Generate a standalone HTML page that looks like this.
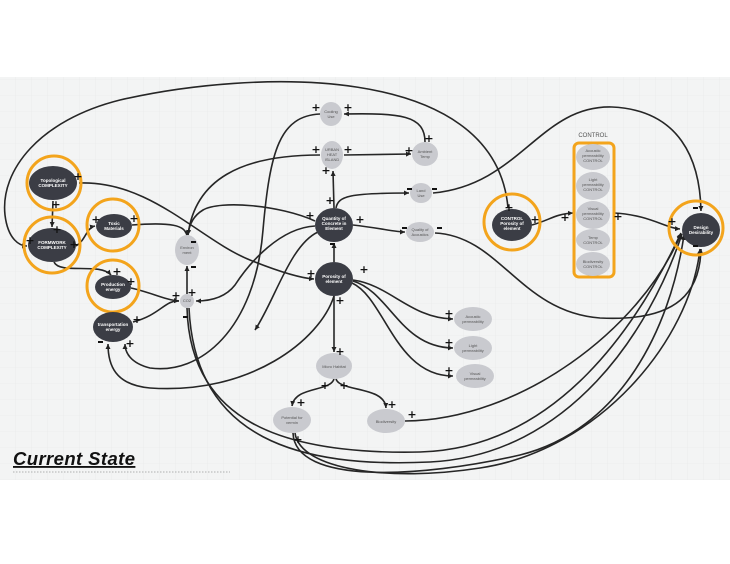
<!DOCTYPE html>
<html><head><meta charset="utf-8"><style>
html,body{margin:0;padding:0;background:#fff;width:730px;height:564px;overflow:hidden}
svg{display:block;font-family:"Liberation Sans",sans-serif}
</style></head><body>
<svg width="730" height="564" viewBox="0 0 730 564" xmlns="http://www.w3.org/2000/svg">
<defs>
<pattern id="g" width="16" height="16" patternUnits="userSpaceOnUse"><path d="M16 0V16H0" fill="none" stroke="#e6e8e8" stroke-width="0.6"/></pattern>
<marker id="a" markerWidth="6" markerHeight="6" refX="5" refY="3" orient="auto" markerUnits="userSpaceOnUse"><path d="M0,0.5 L5,3 L0,5.5z" fill="#222"/></marker>
</defs>
<rect x="0" y="77" width="730" height="403" fill="#f3f4f4"/>
<rect x="0" y="77" width="730" height="403" fill="url(#g)"/>
<g fill="none" stroke="#262626" stroke-width="1.6" marker-end="url(#a)">
<path d="M508,208 C495,60 250,70 120,100 C40,120 0,170 5,215 C8,240 20,246 27,246"/>
<path d="M433,193 C520,185 540,105 612,107 C680,110 700,160 701,211"/>
<path d="M79,183 C150,180 200,240 250,260 C280,272 300,278 314,279"/>
<path d="M53,201 L52,227"/>
<path d="M76,246 C86,240 86,228 95,226"/>
<path d="M54,262 C60,275 100,262 111,275"/>
<path d="M132,225 C170,222 186,225 187,236"/>
<path d="M131,288 C150,292 165,300 179,301"/>
<path d="M133,322 C160,315 165,300 179,301"/>
<path d="M187,294 L187,266"/>
<path d="M320,114 C280,116 270,150 263,230 C255,330 200,375 150,368 C130,363 125,352 125,344"/>
<path d="M334,296 C320,340 250,395 150,388 C115,385 108,365 108,344"/>
<path d="M320,155 C240,155 195,180 188,235"/>
<path d="M315,221 C280,205 220,200 203,210 C193,216 189,225 188,235"/>
<path d="M315,226 C280,228 250,262 235,285 C225,298 210,301 196,301"/>
<path d="M318,232 C290,245 275,300 255,330"/>
<path d="M334,208 L333,171"/>
<path d="M425,142 C425,115 400,113 344,114"/>
<path d="M344,155 L411,154"/>
<path d="M336,208 C338,196 350,193 409,193"/>
<path d="M353,225 C380,228 395,232 405,232"/>
<path d="M435,233 C500,236 520,312 600,318 C680,322 700,290 701,249"/>
<path d="M334,262 L334,243"/>
<path d="M353,280 C390,285 410,318 453,319"/>
<path d="M353,281 C390,292 400,347 453,348"/>
<path d="M352,283 C385,298 395,376 453,376"/>
<path d="M334,296 L334,352"/>
<path d="M334,379 C330,392 295,386 292,406"/>
<path d="M336,379 C340,392 385,386 386,408"/>
<path d="M405,421 C520,420 640,330 681,234"/>
<path d="M187,308 C190,420 280,455 420,452 C560,448 640,320 681,233"/>
<path d="M189,308 C195,440 300,468 430,462 C570,455 650,330 682,234"/>
<path d="M293,433 C295,485 420,478 520,455 C620,430 670,330 684,235"/>
<path d="M295,433 C300,470 390,482 480,468 C600,450 690,340 700,249"/>
<path d="M532,225 C550,220 555,214 573,213"/>
<path d="M614,213 C650,215 665,228 680,229"/>
</g>
<g fill="none" stroke="#f3a41c" stroke-width="3">
<circle cx="54" cy="183" r="27"/><circle cx="52" cy="245" r="28"/>
<circle cx="113" cy="225" r="26"/><circle cx="113" cy="286" r="26"/>
<circle cx="512" cy="222" r="28"/><circle cx="696" cy="228" r="27"/>
<rect x="574" y="143" width="40" height="134" rx="5"/>
</g>
<g fill="#3b3d45">
<ellipse cx="53" cy="183" rx="24" ry="17"/><ellipse cx="52" cy="245" rx="24" ry="17"/>
<ellipse cx="114" cy="226" rx="18" ry="12"/><ellipse cx="113" cy="287" rx="18" ry="12"/>
<ellipse cx="113" cy="327" rx="20" ry="15"/><ellipse cx="334" cy="225" rx="19" ry="17"/>
<ellipse cx="334" cy="279" rx="19" ry="17"/><ellipse cx="512" cy="225" rx="20" ry="16"/>
<ellipse cx="701" cy="230" rx="19" ry="17"/>
</g>
<g fill="#c9cacf">
<ellipse cx="187" cy="250" rx="12" ry="15"/><ellipse cx="187" cy="301" rx="7" ry="7"/>
<ellipse cx="331" cy="114" rx="11" ry="12"/><ellipse cx="332" cy="155" rx="11" ry="14"/>
<ellipse cx="425" cy="154" rx="13" ry="12"/><ellipse cx="421" cy="193" rx="11" ry="10"/>
<ellipse cx="420" cy="232" rx="14" ry="10"/>
<ellipse cx="593" cy="157" rx="17" ry="13"/><ellipse cx="593" cy="186" rx="17" ry="14"/>
<ellipse cx="593" cy="215" rx="17" ry="14"/><ellipse cx="593" cy="240" rx="17" ry="11"/>
<ellipse cx="593" cy="264" rx="17" ry="12"/>
<ellipse cx="473" cy="319" rx="19" ry="12"/><ellipse cx="473" cy="348" rx="19" ry="12"/>
<ellipse cx="475" cy="376" rx="19" ry="12"/>
<ellipse cx="334" cy="366" rx="18" ry="13"/><ellipse cx="292" cy="420" rx="19" ry="13"/>
<ellipse cx="386" cy="421" rx="19" ry="12"/>
</g>
<g fill="#fff" font-size="4.5" font-weight="bold" text-anchor="middle">
<text x="53" y="182">Topological</text><text x="53" y="187">COMPLEXITY</text>
<text x="52" y="244">FORMWORK</text><text x="52" y="249">COMPLEXITY</text>
<text x="114" y="225">Toxic</text><text x="114" y="230">Materials</text>
<text x="113" y="286">Production</text><text x="113" y="291">energy</text>
<text x="113" y="326">transportation</text><text x="113" y="331">energy</text>
<text x="334" y="220">Quantity of</text><text x="334" y="225">Concrete in</text><text x="334" y="230">Element</text>
<text x="334" y="278">Porosity of</text><text x="334" y="283">element</text>
<text x="512" y="220">CONTROL</text><text x="512" y="225">Porosity of</text><text x="512" y="230">element</text>
<text x="701" y="229">Design</text><text x="701" y="234">Desirability</text>
</g>
<g fill="#555" font-size="4" text-anchor="middle">
<text x="187" y="249">Environ</text><text x="187" y="254">ment</text><text x="187" y="302">CO2</text>
<text x="331" y="113">Cooling</text><text x="331" y="118">Use</text>
<text x="332" y="151">URBAN</text><text x="332" y="156">HEAT</text><text x="332" y="161">ISLAND</text>
<text x="425" y="153">Ambient</text><text x="425" y="158">Temp</text>
<text x="421" y="192">Land</text><text x="421" y="197">Use</text>
<text x="420" y="231">Quality of</text><text x="420" y="236">Acoustics</text>
<text x="593" y="152">Acoustic</text><text x="593" y="157">permeability</text><text x="593" y="162">CONTROL</text>
<text x="593" y="181">Light</text><text x="593" y="186">permeability</text><text x="593" y="191">CONTROL</text>
<text x="593" y="210">Visual</text><text x="593" y="215">permeability</text><text x="593" y="220">CONTROL</text>
<text x="593" y="239">Temp</text><text x="593" y="244">CONTROL</text>
<text x="593" y="263">Biodiversity</text><text x="593" y="268">CONTROL</text>
<text x="473" y="318">Acoustic</text><text x="473" y="323">permeability</text>
<text x="473" y="347">Light</text><text x="473" y="352">permeability</text>
<text x="475" y="375">Visual</text><text x="475" y="380">permeability</text>
<text x="334" y="368">Micro Habitat</text>
<text x="292" y="419">Potential for</text><text x="292" y="424">vermin</text>
<text x="386" y="423">Biodiversity</text>
</g>
<text x="593" y="137" font-size="6" fill="#555" text-anchor="middle">CONTROL</text>
<g fill="#111" font-size="11" font-weight="bold" text-anchor="middle" font-family="DejaVu Sans, sans-serif">
<text x="78" y="180">+</text><text x="56" y="208">+</text><text x="57" y="233">+</text><text x="30" y="244">+</text><text x="74" y="248">+</text>
<text x="96" y="223">+</text><text x="134" y="222">+</text><text x="117" y="275">+</text><text x="131" y="285">+</text>
<text x="137" y="323">+</text><text x="130" y="347">+</text><text x="192" y="296">+</text><text x="176" y="299">+</text>
<text x="316" y="111">+</text><text x="348" y="111">+</text><text x="316" y="153">+</text><text x="348" y="153">+</text>
<text x="326" y="174">+</text><text x="330" y="204">+</text><text x="310" y="219">+</text><text x="360" y="223">+</text>
<text x="311" y="277">+</text><text x="364" y="273">+</text><text x="340" y="304">+</text><text x="340" y="355">+</text>
<text x="409" y="154">+</text><text x="429" y="142">+</text><text x="509" y="211">+</text><text x="535" y="223">+</text>
<text x="565" y="221">+</text><text x="618" y="220">+</text><text x="672" y="225">+</text>
<text x="449" y="317">+</text><text x="449" y="346">+</text><text x="449" y="374">+</text>
<text x="325" y="389">+</text><text x="344" y="389">+</text><text x="301" y="406">+</text><text x="392" y="408">+</text>
<text x="298" y="443">+</text><text x="412" y="418">+</text>
</g>
<g stroke="#111" stroke-width="2">
<path d="M191,242h5M191,267h5M183,317h5M98,342h5M330,244h5M407,189h5M432,189h5M402,228h5M437,228h5M693,208h5M693,246h5"/>
</g>
<text x="13" y="465" font-size="18.5" font-weight="bold" font-style="italic" fill="#111" text-decoration="underline" letter-spacing="0.4">Current State</text>
<line x1="13" y1="472" x2="230" y2="472" stroke="#999" stroke-width="0.8" stroke-dasharray="1.5,1.5"/>
</svg>
</body></html>
